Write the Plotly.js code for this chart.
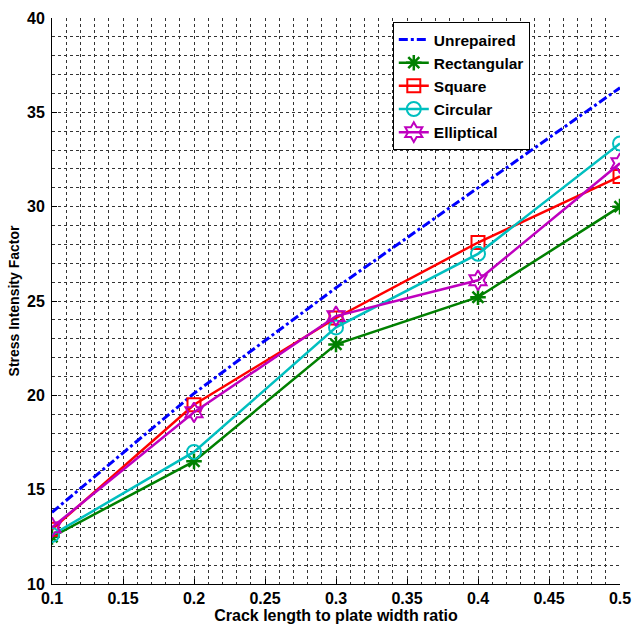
<!DOCTYPE html>
<html>
<head>
<meta charset="utf-8">
<script src="https://cdn.plot.ly/plotly-3.0.1.min.js"></script>
<style>html,body{margin:0;padding:0;background:#fff;}#chart{width:632px;height:625px;}</style>
</head>
<body>
<div id="chart"></div>
<script>
var ratios = [0.1, 0.2, 0.3, 0.4, 0.5];
var unrepaired = [13.8, 20.1, 25.7, 31.0, 36.3];
var rectangular = [12.5, 16.5, 22.7, 25.2, 30.0];
var square = [12.9, 19.5, 24.1, 28.1, 31.6];
var circular = [12.6, 17.0, 23.6, 27.5, 33.35];
var elliptical = [13.0, 19.1, 24.2, 26.1, 32.3];
var xTickVals = [0.1, 0.15, 0.2, 0.25, 0.3, 0.35, 0.4, 0.45, 0.5];
var xTickText = ['0.1', '0.15', '0.2', '0.25', '0.3', '0.35', '0.4', '0.45', '0.5'];
var yTickVals = [10, 15, 20, 25, 30, 35, 40];

var traces = [
  {x: ratios, y: unrepaired, name: 'Unrepaired', mode: 'lines',
   line: {color: '#0000ff', width: 3, dash: 'dashdot'}},
  {x: ratios, y: rectangular, name: 'Rectangular', mode: 'lines+markers',
   line: {color: '#008000', width: 2.5},
   marker: {symbol: 'asterisk-open', size: 13, color: '#008000', line: {color: '#008000', width: 2.5}}},
  {x: ratios, y: square, name: 'Square', mode: 'lines+markers',
   line: {color: '#ff0000', width: 2.5},
   marker: {symbol: 'square-open', size: 13, color: '#ff0000', line: {color: '#ff0000', width: 2}}},
  {x: ratios, y: circular, name: 'Circular', mode: 'lines+markers',
   line: {color: '#00bfbf', width: 2.5},
   marker: {symbol: 'circle-open', size: 14, color: '#00bfbf', line: {color: '#00bfbf', width: 2}}},
  {x: ratios, y: elliptical, name: 'Elliptical', mode: 'lines+markers',
   line: {color: '#bf00bf', width: 2.5},
   marker: {symbol: 'hexagram-open', size: 15, color: '#bf00bf', line: {color: '#bf00bf', width: 2}}}
];

var gridStyle = {showgrid: true, gridcolor: '#333', griddash: 'dot', gridwidth: 1};

var layout = {
  width: 632, height: 625,
  margin: {l: 52, r: 12, t: 18, b: 41},
  paper_bgcolor: '#fff', plot_bgcolor: '#fff',
  font: {family: '"Liberation Sans", Arial, sans-serif', color: '#000'},
  showlegend: true,
  legend: {x: 0.6, y: 0.993, xanchor: 'left', yanchor: 'top',
           bgcolor: '#fff', bordercolor: '#000', borderwidth: 1,
           font: {size: 15.5, weight: 'bold'}},
  xaxis: Object.assign({
    range: [0.1, 0.5], tickvals: xTickVals, ticktext: xTickText,
    ticks: 'inside', ticklen: 5, tickcolor: '#000',
    showline: true, linecolor: '#000', linewidth: 1, zeroline: false,
    tickfont: {size: 16, weight: 'bold'},
    minor: {dtick: 0.01, showgrid: true, gridcolor: '#333', griddash: 'dot', gridwidth: 1, ticks: ''},
    title: {text: 'Crack length to plate width ratio', font: {size: 16, weight: 'bold'}, standoff: 0}
  }, gridStyle),
  yaxis: Object.assign({
    range: [10, 40], tickvals: yTickVals,
    ticks: 'inside', ticklen: 5, tickcolor: '#000',
    showline: true, linecolor: '#000', linewidth: 1, zeroline: false,
    tickfont: {size: 16, weight: 'bold'}, ticklabelstandoff: 3,
    minor: {dtick: 1, showgrid: true, gridcolor: '#333', griddash: 'dot', gridwidth: 1, ticks: ''},
    title: {text: 'Stress Intensity Factor', font: {size: 14, weight: 'bold'}, standoff: 4}
  }, gridStyle)
};

Plotly.newPlot('chart', traces, layout, {displayModeBar: false, staticPlot: true});
</script>
</body>
</html>
